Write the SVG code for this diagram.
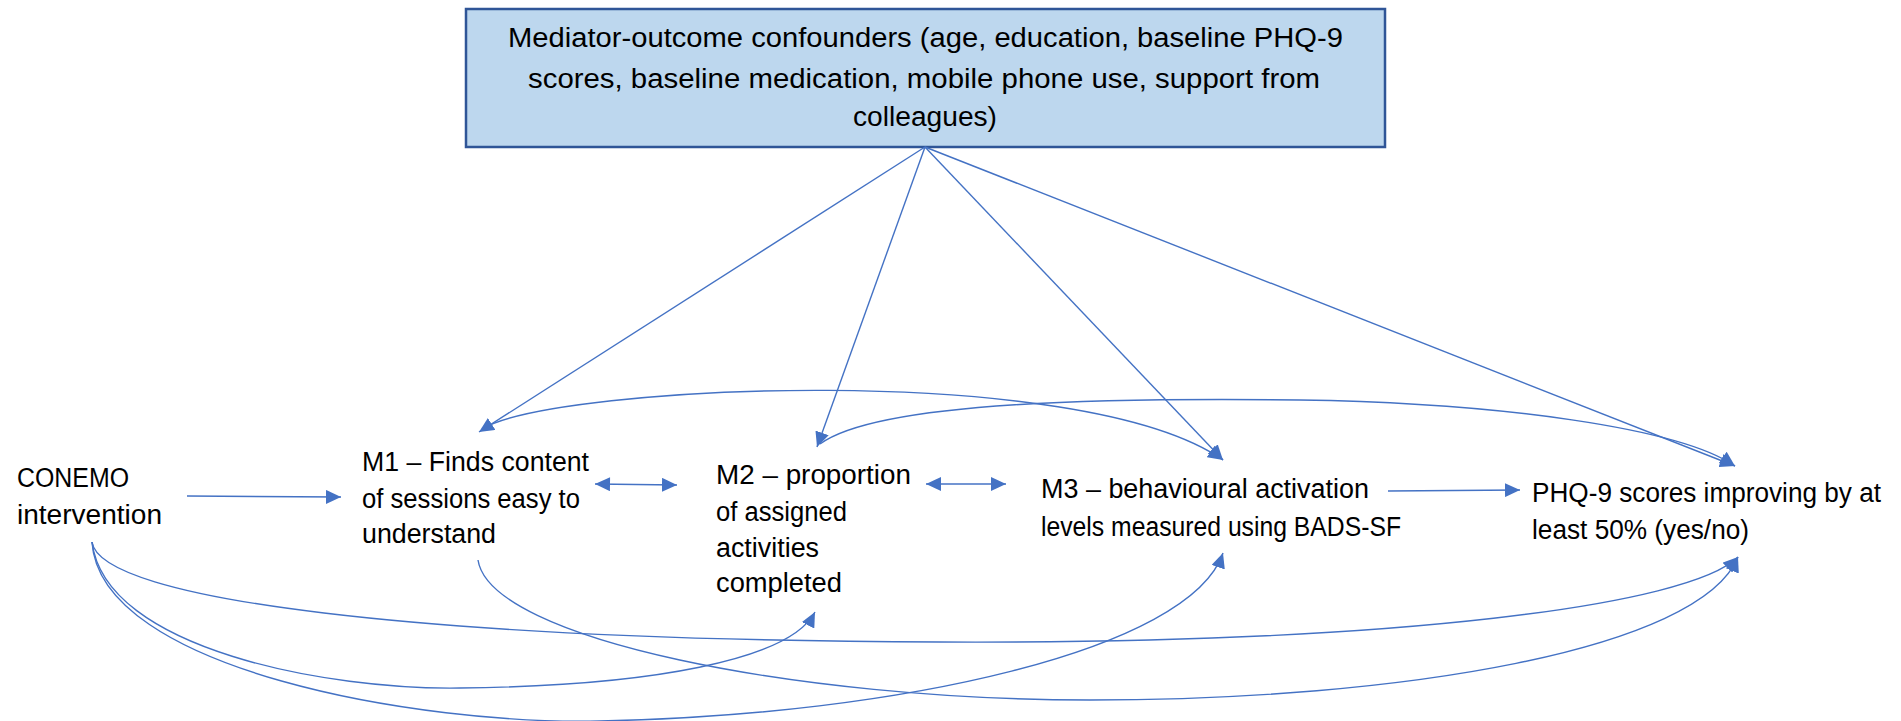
<svg xmlns="http://www.w3.org/2000/svg" width="1901" height="721" viewBox="0 0 1901 721">
  <style>
    .lbl { font-family: "Liberation Sans", Arial, sans-serif; font-size: 27px; fill: #000000; }
    .edge { fill: none; stroke: #4472C4; stroke-width: 1.4; }
    .box { fill: #BDD7EE; stroke: #2F5597; stroke-width: 2.5; }
  </style>
  <defs>
    <marker id="arrowEnd" markerUnits="userSpaceOnUse" markerWidth="16" markerHeight="14" refX="15" refY="7" orient="auto">
      <path d="M0,0 L15,7 L0,14 Z" fill="#4472C4"/>
    </marker>
    <marker id="arrowStart" markerUnits="userSpaceOnUse" markerWidth="16" markerHeight="14" refX="0" refY="7" orient="auto">
      <path d="M15,0 L0,7 L15,14 Z" fill="#4472C4"/>
    </marker>
  </defs>

  <!-- Confounders box -->
  <g id="confounders">
    <rect class="box" x="466" y="9" width="919" height="138"/>
    <text class="lbl" x="508" y="47" textLength="835" lengthAdjust="spacingAndGlyphs">Mediator-outcome confounders (age, education, baseline PHQ-9</text>
    <text class="lbl" x="528" y="88" textLength="792" lengthAdjust="spacingAndGlyphs">scores, baseline medication, mobile phone use, support from</text>
    <text class="lbl" x="853" y="126" textLength="144" lengthAdjust="spacingAndGlyphs">colleagues)</text>
  </g>

  <g id="conemo">
    <text class="lbl" x="17" y="487" textLength="112" lengthAdjust="spacingAndGlyphs">CONEMO</text>
    <text class="lbl" x="17" y="524" textLength="145" lengthAdjust="spacingAndGlyphs">intervention</text>
  </g>

  <g id="m1">
    <text class="lbl" x="362" y="471" textLength="227" lengthAdjust="spacingAndGlyphs">M1 – Finds content</text>
    <text class="lbl" x="362" y="508" textLength="218" lengthAdjust="spacingAndGlyphs">of sessions easy to</text>
    <text class="lbl" x="362" y="543" textLength="134" lengthAdjust="spacingAndGlyphs">understand</text>
  </g>

  <g id="m2">
    <text class="lbl" x="716" y="484" textLength="195" lengthAdjust="spacingAndGlyphs">M2 – proportion</text>
    <text class="lbl" x="716" y="521" textLength="131" lengthAdjust="spacingAndGlyphs">of assigned</text>
    <text class="lbl" x="716" y="557" textLength="103" lengthAdjust="spacingAndGlyphs">activities</text>
    <text class="lbl" x="716" y="592" textLength="126" lengthAdjust="spacingAndGlyphs">completed</text>
  </g>

  <g id="m3">
    <text class="lbl" x="1041" y="498" textLength="328" lengthAdjust="spacingAndGlyphs">M3 – behavioural activation</text>
    <text class="lbl" x="1041" y="536" textLength="360" lengthAdjust="spacingAndGlyphs">levels measured using BADS-SF</text>
  </g>

  <g id="outcome">
    <text class="lbl" x="1532" y="502" textLength="349" lengthAdjust="spacingAndGlyphs">PHQ-9 scores improving by at</text>
    <text class="lbl" x="1532" y="539" textLength="217" lengthAdjust="spacingAndGlyphs">least 50% (yes/no)</text>
  </g>

  <!-- Connectors -->
  <g id="connectors">
    <!-- confounders to each mediator and outcome -->
    <line class="edge" x1="925" y1="147" x2="479" y2="432" marker-end="url(#arrowEnd)"/>
    <line class="edge" x1="925" y1="147" x2="817" y2="447" marker-end="url(#arrowEnd)"/>
    <line class="edge" x1="925" y1="147" x2="1223" y2="460" marker-end="url(#arrowEnd)"/>
    <line class="edge" x1="925" y1="147" x2="1735" y2="466" marker-end="url(#arrowEnd)"/>

    <!-- straight links along the chain -->
    <line class="edge" x1="187" y1="496" x2="341" y2="497" marker-end="url(#arrowEnd)"/>
    <line class="edge" x1="595" y1="484" x2="677" y2="485" marker-start="url(#arrowStart)" marker-end="url(#arrowEnd)"/>
    <line class="edge" x1="926" y1="484" x2="1006" y2="484" marker-start="url(#arrowStart)" marker-end="url(#arrowEnd)"/>
    <line class="edge" x1="1388" y1="491" x2="1520" y2="490" marker-end="url(#arrowEnd)"/>

    <!-- upper arcs -->
    <path class="edge" d="M 484,428 C 560,385 1080,360 1223,460" marker-end="url(#arrowEnd)"/>
    <path class="edge" d="M 820,444 C 880,400 1120,398 1300,400 C 1500,403 1680,428 1735,466" marker-end="url(#arrowEnd)"/>

    <!-- lower arcs -->
    <path class="edge" d="M 92,542 C 100,600 420,640 940,642 C 1400,644 1690,605 1738,557" marker-end="url(#arrowEnd)"/>
    <path class="edge" d="M 92,542 C 105,650 330,690 460,688 C 650,686 790,660 815,612" marker-end="url(#arrowEnd)"/>
    <path class="edge" d="M 92,542 C 100,670 420,725 600,721 C 900,715 1190,650 1223,553" marker-end="url(#arrowEnd)"/>
    <path class="edge" d="M 478,560 C 490,640 800,700 1090,700 C 1400,700 1700,650 1738,557" marker-end="url(#arrowEnd)"/>
  </g>
</svg>
